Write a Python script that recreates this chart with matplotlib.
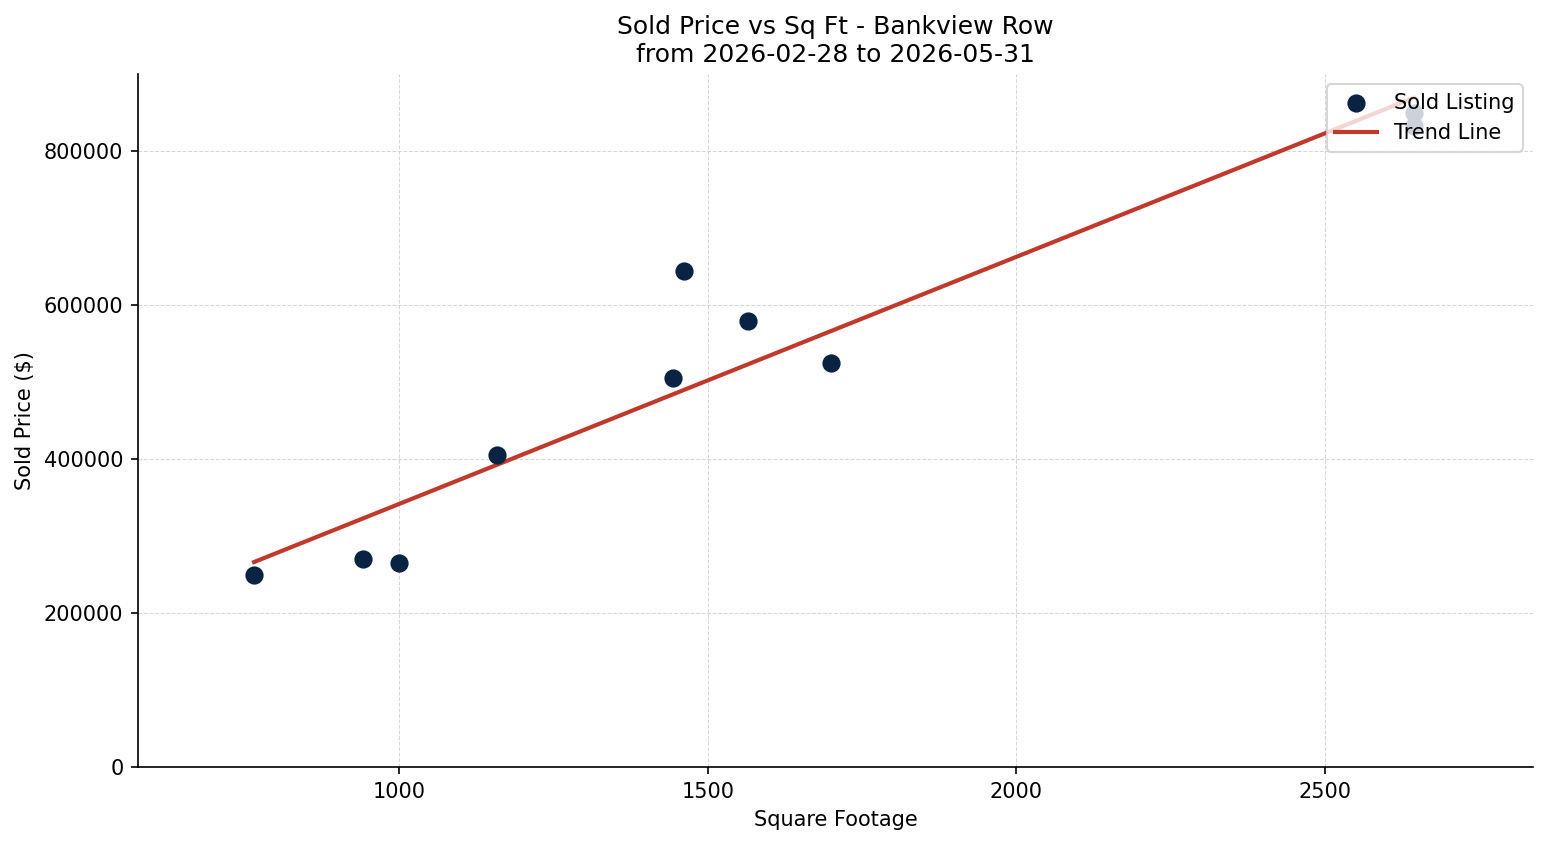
import numpy as np
import matplotlib
matplotlib.use("Agg")
import matplotlib.pyplot as plt

sqft = [765, 942, 1000, 1159, 1443, 1461, 1565, 1699, 2644, 2644]
price = [249000, 270000, 265000, 405000, 505000, 644000, 579000, 525000, 849000, 833000]

title = "Sold Price vs Sq Ft - Bankview Row\nfrom 2026-02-28 to 2026-05-31"

fig = plt.figure(figsize=(1547/150, 845/150), dpi=150)
ax = fig.add_axes([138/1547, 1-767/845, (1533-138)/1547, (767-74)/845])

ax.scatter(sqft, price, s=60, color="#0a2342", zorder=3, label="Sold Listing")
coef = np.polyfit(sqft, price, 1)
xs = np.array([min(sqft), max(sqft)])
ax.plot(xs, np.polyval(coef, xs), color="#c0392b", linewidth=2, label="Trend Line", zorder=2)

ax.set_xlim(577, 2837)
ax.set_ylim(0, 900000)
ax.set_xticks([1000, 1500, 2000, 2500])
ax.set_yticks([0, 200000, 400000, 600000, 800000])
ax.grid(True, linestyle="--", linewidth=0.5, color="#cccccc", alpha=0.8)
ax.spines["top"].set_visible(False)
ax.spines["right"].set_visible(False)
ax.set_xlabel("Square Footage")
ax.set_ylabel("Sold Price ($)")
ax.set_title(title, fontsize=12)
ax.legend(loc="upper right")

fig.savefig("out.png", dpi=150)
